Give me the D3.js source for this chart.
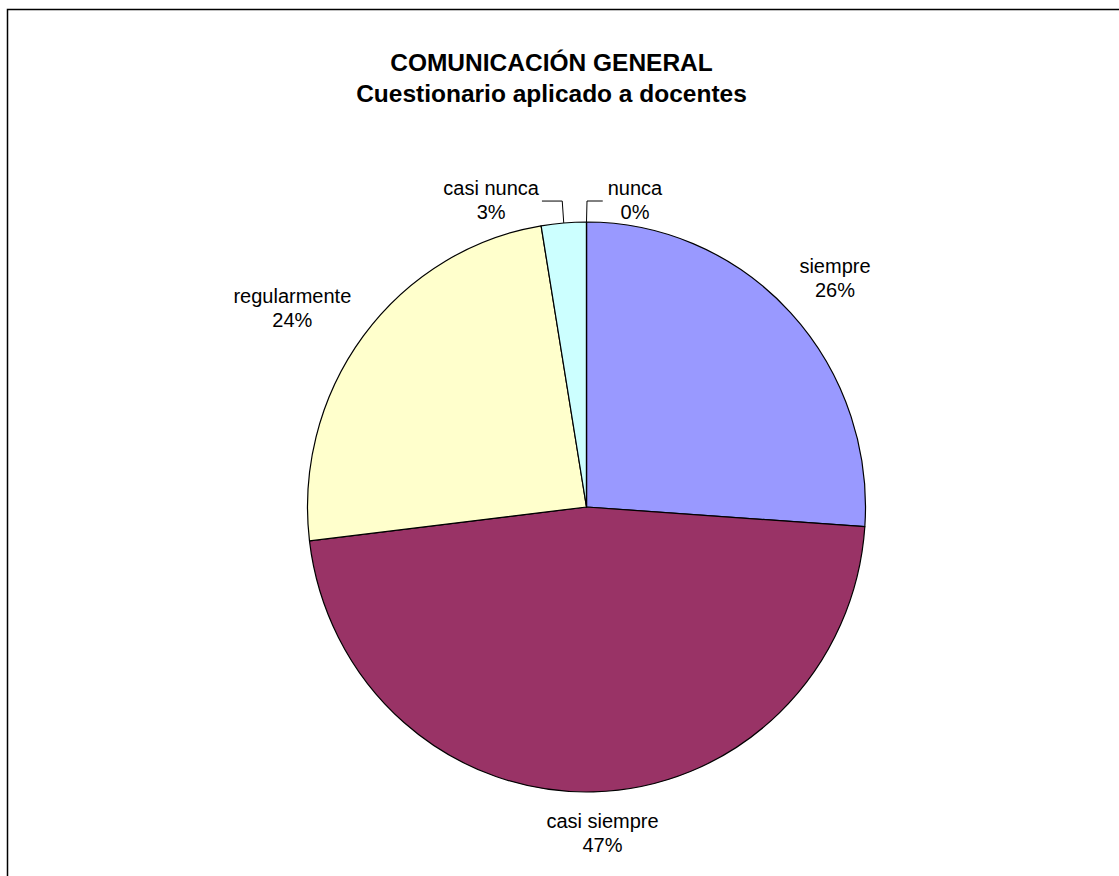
<!DOCTYPE html>
<html>
<head>
<meta charset="utf-8">
<script src="https://cdn.jsdelivr.net/npm/d3@7"></script>
<style>
  html, body { margin: 0; padding: 0; background: #fff; }
  svg { display: block; }
  text { font-family: "Liberation Sans", Arial, sans-serif; fill: #000; }
</style>
</head>
<body>
<svg id="chart" width="1119" height="876"></svg>
<script>
// ---- data ----
const categories = ["siempre", "casi siempre", "regularmente", "casi nunca", "nunca"];
const values = [26.1, 47.0, 24.3, 2.6, 0.0];
const colors = ["#9999FF", "#993366", "#FFFFCC", "#CCFFFF", "#FFFFFF"];
const titleLines = ["COMUNICACIÓN GENERAL", "Cuestionario aplicado a docentes"];

// ---- layout (not data) ----
const W = 1119, H = 876;
const cx = 586.5, cy = 507;
const R = 279, yStretch = 285 / 279;
// label block centre offset from the slice's outer mid-point
const labelOffsets = [[44.5, -34.6], [9, 41], [-71, -28], [-72.6, -23.4], [48.5, -22.5]];
const useLeader = [false, false, false, true, true];
const lineGap = 24;

const svg = d3.select("#chart");

// outer border
svg.append("rect")
  .attr("x", 7.5).attr("y", 9.5)
  .attr("width", 1300).attr("height", 1000)
  .attr("fill", "none").attr("stroke", "#000").attr("stroke-width", 1.5);

// title
const title = svg.append("g");
titleLines.forEach((t, i) => {
  title.append("text")
    .attr("x", 551.5).attr("y", 62 + i * 31 + 8.5)
    .attr("text-anchor", "middle")
    .attr("font-size", "24.5px").attr("font-weight", "bold")
    .text(t);
});

const total = d3.sum(values);
const pie = d3.pie().sort(null).value(d => d)(values);
const arc = d3.arc().innerRadius(0).outerRadius(R);

const g = svg.append("g").attr("transform", `translate(${cx},${cy}) scale(1,${yStretch})`);
g.selectAll("path")
  .data(pie)
  .join("path")
  .attr("d", arc)
  .attr("fill", (d, i) => colors[i])
  .attr("stroke", "#000")
  .attr("stroke-width", 1.2)
  .attr("vector-effect", "non-scaling-stroke")
  .attr("stroke-linejoin", "round");

// labels
const lab = svg.append("g");
pie.forEach((d, i) => {
  const mid = (d.startAngle + d.endAngle) / 2;
  const ax = cx + Math.sin(mid) * R;
  const ay = cy - Math.cos(mid) * R * yStretch;
  const lx = ax + labelOffsets[i][0];
  const ly = ay + labelOffsets[i][1];
  const pct = Math.round(values[i] / total * 100) + "%";
  const t1 = lab.append("text")
    .attr("x", lx).attr("y", ly - lineGap / 2 + 7)
    .attr("text-anchor", "middle").attr("font-size", "20px")
    .text(categories[i]);
  lab.append("text")
    .attr("x", lx).attr("y", ly + lineGap / 2 + 7)
    .attr("text-anchor", "middle").attr("font-size", "20px")
    .text(pct);
  if (useLeader[i]) {
    const w = t1.node().getComputedTextLength();
    const yl = ly + 1.5;
    const endX = lx > ax ? lx - w / 2 - 5 : lx + w / 2 + 3;
    const elbowX = lx > ax ? ax + 0.5 : ax - 1.5;
    lab.append("polyline")
      .attr("points", `${ax},${ay} ${elbowX},${yl} ${endX},${yl}`)
      .attr("fill", "none").attr("stroke", "#000").attr("stroke-width", 1);
  }
});
</script>
</body>
</html>
